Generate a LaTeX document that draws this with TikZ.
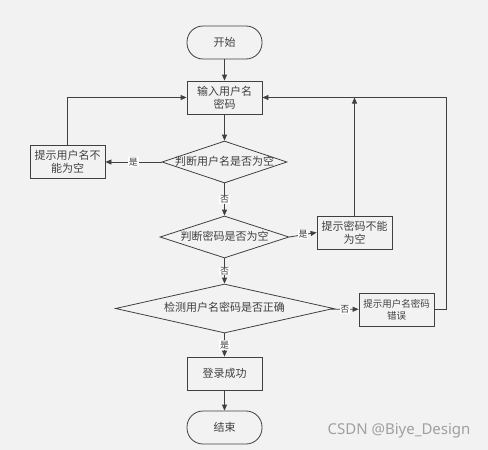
\documentclass[tikz,border=0pt]{standalone}
\usepackage{fontspec}
\usepackage{tikz}
\usetikzlibrary{
  arrows.meta,
  shapes.geometric,
  positioning,
  shadows
}
\newfontfamily\cjk{Noto Sans CJK SC}
\newfontfamily\markfont{Noto Sans}
\definecolor{fcBg}{HTML}{F2F2F2}
\definecolor{fcLine}{HTML}{404040}
\definecolor{fcMark}{HTML}{A0A0A0}
\tikzset{
  fcnode/.style={
    draw=fcLine, line width=0.8pt, align=center,
    font=\cjk\fontsize{11}{13}\selectfont, text=fcLine
  },
  terminal/.style={fcnode, rounded corners=16pt, minimum width=75pt, minimum height=33pt},
  procbox/.style={fcnode, fill=fcBg, minimum width=75pt, minimum height=33pt, inner sep=1pt,
    drop shadow={shadow xshift=0.8pt, shadow yshift=-0.8pt, fill=black!45, opacity=0.5}},
  decision/.style={fcnode, diamond, aspect=3, inner xsep=-6pt, inner ysep=0pt,
    text height=8pt, text depth=2pt},
  flow/.style={-{Triangle[length=6pt, width=5pt]}, line width=0.8pt, fcLine},
  tag/.style={font=\cjk\fontsize{9}{10}\selectfont, text=fcLine, fill=white, inner sep=0.6pt}
}
\begin{document}
\begin{tikzpicture}[x=1pt, y=-1pt]
  \fill[fcBg] (0,0) rectangle (488,450);
  \useasboundingbox (0,0) rectangle (488,450);
  % main column
  \node[terminal] (start) at (224.5,42.5) {开始};
  \node[procbox] (input) at (224.5,97.5) {输入用户名\\密码};
  \node[decision, minimum width=125pt, minimum height=42pt] (chkname) at (224.5,162) {判断用户名是否为空};
  \node[decision, minimum width=129pt, minimum height=42pt] (chkpwd) at (224.5,237) {判断密码是否为空};
  \node[decision, minimum width=218pt, minimum height=49pt] (check) at (224.5,308.5) {检测用户名密码是否正确};
  \node[procbox] (login) at (224.5,373.5) {登录成功};
  \node[terminal] (finish) at (224.5,427.5) {结束};
  % hint boxes
  \node[procbox] (tipname) at (67.5,162) {提示用户名不\\能为空};
  \node[procbox] (tippwd) at (354.5,232.5) {提示密码不能\\为空};
  \node[procbox, font=\cjk\fontsize{9.5}{12}\selectfont] (tiperr) at (396.5,309.5) {提示用户名密码\\错误};
  \node[font=\markfont\fontsize{15}{16}\selectfont, text=fcMark, anchor=east] (mark) at (474,431) {CSDN @Biye\_Design};
  % connectors
  \draw[flow] (start) -- (input);
  \draw[flow] (input) -- (chkname);
  \draw[flow] (chkname) -- node[tag]{是} (tipname);
  \draw[flow] (tipname.north) |- (input.west);
  \draw[flow] (chkname) -- node[tag]{否} (chkpwd);
  \draw[flow] (chkpwd.east) -- node[tag]{是} (tippwd.west);
  \draw[flow] (tippwd.north) -- (tippwd.north |- input.east);
  \draw[flow] (chkpwd) -- node[tag]{否} (check);
  \draw[flow] (check) -- node[tag]{否} (tiperr);
  \draw[flow] (tiperr.east) -- ++(12,0) |- (input.east);
  \draw[flow] (check) -- node[tag]{是} (login);
  \draw[flow] (login) -- (finish);
\end{tikzpicture}
\end{document}
